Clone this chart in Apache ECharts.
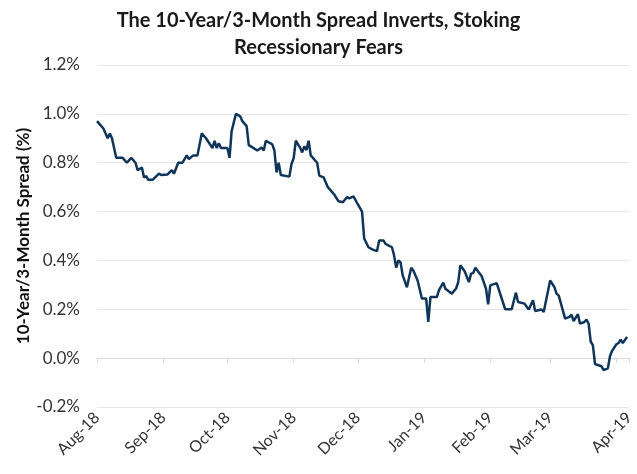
<!DOCTYPE html>
<html>
<head>
<meta charset="utf-8">
<script src="https://cdn.jsdelivr.net/npm/echarts@6/dist/echarts.min.js"></script>
<style>
  html, body { margin: 0; padding: 0; background: #fff; }
  #chart { width: 637px; height: 474px; }
</style>
</head>
<body>
<div id="chart"></div>
<script>
(function () {
    'use strict';

    // trading days
    var dates = [
        '2018-08-01','2018-08-02','2018-08-04','2018-08-06','2018-08-07','2018-08-08','2018-08-10','2018-08-13',
        '2018-08-15','2018-08-17','2018-08-19','2018-08-20','2018-08-22','2018-08-23','2018-08-24','2018-08-25',
        '2018-08-27','2018-08-30','2018-08-31',
        '2018-09-03','2018-09-05','2018-09-06','2018-09-08','2018-09-10','2018-09-12','2018-09-13','2018-09-15',
        '2018-09-17','2018-09-19','2018-09-21','2018-09-24','2018-09-25','2018-09-26','2018-09-27','2018-09-28',
        '2018-10-01','2018-10-02','2018-10-03','2018-10-05','2018-10-07','2018-10-08','2018-10-10','2018-10-11',
        '2018-10-12','2018-10-15','2018-10-17','2018-10-18','2018-10-19','2018-10-22','2018-10-23','2018-10-24',
        '2018-10-25','2018-10-26','2018-10-30','2018-10-31',
        '2018-11-01','2018-11-02','2018-11-04','2018-11-05','2018-11-06','2018-11-07','2018-11-08','2018-11-09',
        '2018-11-12','2018-11-13','2018-11-15','2018-11-17','2018-11-20','2018-11-22','2018-11-24','2018-11-26',
        '2018-11-27','2018-11-29',
        '2018-12-01','2018-12-03','2018-12-04','2018-12-06','2018-12-08','2018-12-10','2018-12-11','2018-12-13',
        '2018-12-14','2018-12-17','2018-12-18','2018-12-19','2018-12-20','2018-12-21','2018-12-22','2018-12-24',
        '2018-12-26','2018-12-27','2018-12-29','2018-12-31',
        '2019-01-02','2019-01-03','2019-01-04','2019-01-07','2019-01-08','2019-01-10','2019-01-11','2019-01-13',
        '2019-01-14','2019-01-16','2019-01-17','2019-01-18','2019-01-20','2019-01-22','2019-01-23','2019-01-24',
        '2019-01-25','2019-01-28','2019-01-30','2019-01-31',
        '2019-02-01','2019-02-04','2019-02-05','2019-02-08','2019-02-11','2019-02-13','2019-02-14','2019-02-17',
        '2019-02-19','2019-02-21','2019-02-22','2019-02-25','2019-02-26',
        '2019-03-01','2019-03-03','2019-03-04','2019-03-05','2019-03-08','2019-03-10','2019-03-11','2019-03-12',
        '2019-03-14','2019-03-15','2019-03-17','2019-03-18','2019-03-19','2019-03-20','2019-03-21','2019-03-22',
        '2019-03-25','2019-03-26','2019-03-28','2019-03-29','2019-03-30',
        '2019-04-01','2019-04-02','2019-04-03','2019-04-04','2019-04-06'
    ];

    // 10-year minus 3-month spread, percent
    var spread = [
        0.97,0.96,0.94,0.90,0.92,0.90,0.82,0.82,
        0.80,0.82,0.80,0.77,0.78,0.74,0.745,0.73,
        0.73,0.755,0.75,
        0.752,0.77,0.755,0.80,0.80,0.83,0.815,0.83,
        0.83,0.92,0.90,0.86,0.89,0.86,0.88,0.86,
        0.86,0.82,0.93,1.00,0.99,0.97,0.95,0.872,
        0.867,0.85,0.862,0.85,0.89,0.875,0.85,0.76,
        0.80,0.75,0.743,0.795,
        0.818,0.89,0.862,0.842,0.867,0.852,0.89,0.83,
        0.80,0.747,0.74,0.70,0.67,0.642,0.638,0.66,
        0.654,0.662,
        0.63,0.60,0.49,0.454,0.444,0.438,0.482,0.482,
        0.468,0.454,0.42,0.37,0.40,0.393,0.34,0.29,
        0.37,0.359,0.318,0.244,
        0.244,0.148,0.25,0.25,0.278,0.309,0.284,0.271,
        0.264,0.285,0.311,0.38,0.356,0.311,0.346,0.348,
        0.37,0.335,0.284,0.22,
        0.298,0.307,0.28,0.20,0.20,0.268,0.23,0.223,
        0.199,0.237,0.193,0.199,0.189,
        0.318,0.291,0.264,0.257,0.162,0.169,0.178,0.152,
        0.18,0.141,0.148,0.158,0.141,0.067,0.053,-0.024,
        -0.033,-0.049,-0.042,0.008,0.03,
        0.057,0.062,0.076,0.062,0.087
    ];

    var monthNames = ['Jan','Feb','Mar','Apr','May','Jun','Jul','Aug','Sep','Oct','Nov','Dec'];
    var xMin = '2018-08-01';
    var xMax = '2019-04-07';

    var seriesData = dates.map(function (d, i) { return [d, spread[i]]; });

    var labelFont = 'Lato, "Noto Sans", sans-serif';

    var chart = echarts.init(document.getElementById('chart'));
    var option = {
        animation: false,
        backgroundColor: '#fff',
        title: {
            text: 'The 10-Year/3-Month Spread Inverts, Stoking\nRecessionary Fears',
            left: 'center',
            top: 2,
            textStyle: {
                fontFamily: labelFont,
                fontSize: 20,
                fontWeight: 'bold',
                lineHeight: 27,
                color: '#1a1a1a'
            }
        },
        grid: { left: 97, right: 4, top: 65, bottom: 67 },
        xAxis: [{
            type: 'time',
            min: xMin,
            max: xMax,
            splitNumber: 9,
            axisLine: { show: false, onZero: false },
            axisTick: { show: false },
            splitLine: { show: false },
            axisLabel: {
                rotate: 45,
                margin: 8,
                fontFamily: labelFont,
                fontSize: 16,
                color: '#333',
                showMinLabel: true,
                showMaxLabel: true,
                formatter: function (val) {
                    var d = new Date(val);
                    return monthNames[d.getMonth()] + '-' + String(d.getFullYear()).slice(2);
                }
            }
        }, {
            // axis line with ticks crossing at zero
            type: 'time',
            min: xMin,
            max: xMax,
            splitNumber: 9,
            position: 'bottom',
            axisLine: { show: true, onZero: true, lineStyle: { color: '#d9d9d9', width: 1 } },
            axisTick: { show: true, length: 5, lineStyle: { color: '#d9d9d9' } },
            axisLabel: { show: false },
            splitLine: { show: false }
        }],
        yAxis: {
            type: 'value',
            min: -0.2,
            max: 1.2,
            interval: 0.2,
            name: '10-Year/3-Month Spread (%)',
            nameLocation: 'middle',
            nameGap: 65,
            nameMoveOverlap: false,
            nameTextStyle: {
                fontFamily: labelFont,
                fontSize: 17,
                fontWeight: 'bold',
                color: '#111'
            },
            axisLine: { show: false },
            axisTick: { show: false },
            splitLine: { lineStyle: { color: '#e6e6e6', width: 1 } },
            axisLabel: {
                margin: 17,
                fontFamily: labelFont,
                fontSize: 17,
                color: '#333',
                formatter: function (v) { return v.toFixed(1) + '%'; }
            }
        },
        series: [{
            type: 'line',
            xAxisIndex: 0,
            data: seriesData,
            showSymbol: false,
            lineStyle: { color: '#0f3659', width: 2.5 },
            itemStyle: { color: '#0f3659' }
        }]
    };
    chart.setOption(option);
})();
</script>
</body>
</html>
